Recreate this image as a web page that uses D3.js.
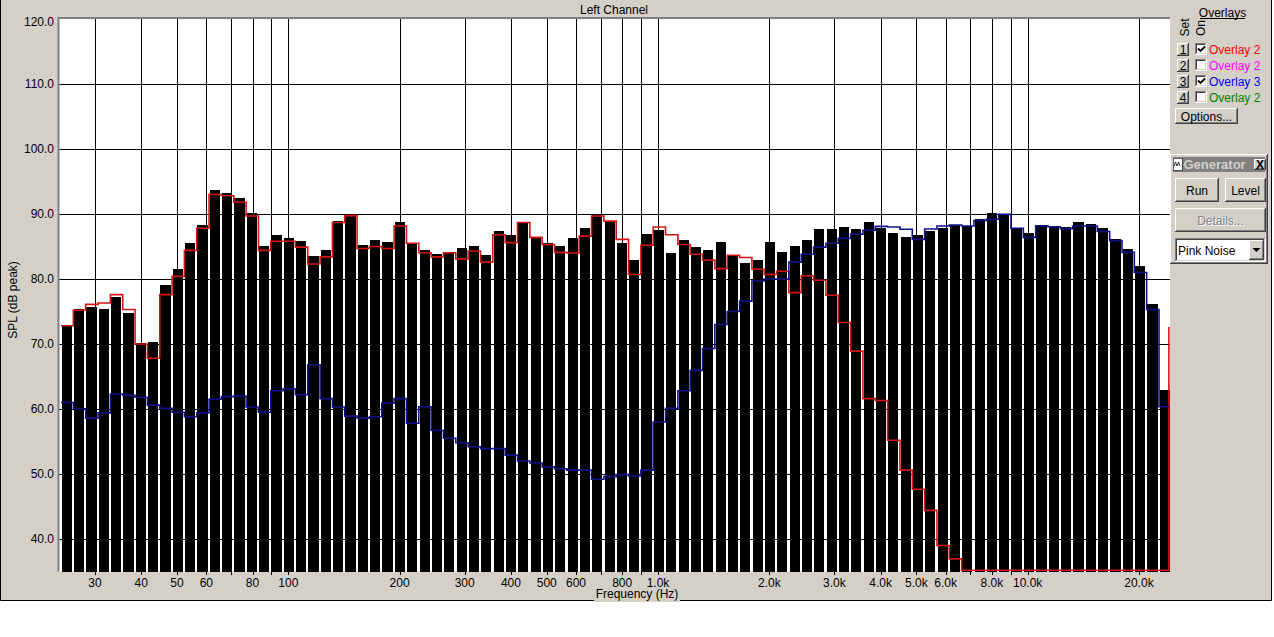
<!DOCTYPE html>
<html><head><meta charset="utf-8">
<script src="https://cdn.jsdelivr.net/npm/d3@7"></script>
<style>
html,body{margin:0;padding:0;background:#fff;overflow:hidden}
svg{display:block}
text{font-family:"Liberation Sans",Arial,sans-serif;font-size:12px}
</style>
</head><body>
<svg id="c" width="1274" height="637"></svg>
<script>
// ---- data (1/9-octave bands) ----
const bandCenters = [25.14,27.16,29.33,31.67,34.20,36.93,39.88,43.07,46.51,50.22,
  54.23,58.56,63.24,68.29,73.75,79.64,86.00,92.87,100.25,108.26,
  116.9,126.3,136.3,147.2,159.0,171.7,185.4,200.2,216.2,233.5,
  252.1,272.3,294.0,317.5,342.8,370.2,399.8,431.8,466.2,503.5,
  543.7,587.1,634.0,684.7,739.4,798.4,862.2,931.1,1005,1086,
  1172,1266,1367,1476,1594,1722,1859,2007,2168,2341,
  2528,2730,2948,3183,3438,3712,4009,4329,4675,5048,
  5452,5887,6357,6865,7413,8005,8645,9335,10080,10890,
  11750,12690,13710,14800,15980,17260,18640,20120,21730,23470];

const levels = [72.8,75.4,75.7,75.4,77.3,74.7,70.1,70.3,79.1,81.5,
  85.6,88.3,93.7,93.2,92.5,90.2,85.1,86.8,86.3,85.8,
  83.5,84.5,88.9,89.85,85.2,86.0,85.7,88.8,85.5,84.5,
  83.85,84.15,84.8,85.1,83.7,87.4,86.8,88.6,86.4,85.5,
  85.1,86.3,87.8,89.9,89.0,85.6,82.9,86.9,87.5,84.05,
  86.0,85.0,84.5,85.7,83.5,82.5,82.9,85.7,84.2,85.1,
  86.0,87.7,87.7,88.0,87.7,88.8,87.9,87.1,86.5,86.8,
  87.4,87.9,88.3,88.15,89.3,90.15,89.95,87.8,87.1,88.35,
  88.15,88.0,88.8,88.5,87.85,86.1,84.6,82.05,76.2,62.95];

const overlay1 = [72.8,75.2,76.1,76.3,77.6,75.3,70.0,67.8,77.6,80.4,
  84.4,87.8,93.0,92.8,91.8,89.7,84.4,85.8,85.8,84.9,
  82.3,83.4,88.7,89.75,84.7,85.0,84.7,88.15,85.5,84.05,
  83.4,84.05,83.1,84.3,82.6,86.8,85.6,88.7,86.4,85.3,
  84.1,84.0,86.6,89.7,88.9,86.1,80.7,85.2,88.0,86.8,
  85.3,83.8,82.9,81.6,83.65,83.3,81.5,80.7,81.2,77.9,
  80.5,79.8,77.5,73.3,68.9,61.6,61.3,55.2,50.6,47.65,
  44.4,39.0,36.95,35,35,35,35,35,35,35,
  35,35,35,35,35,35,35,35,35,35];
const overlay1End = 72.6;

const overlay3 = [61.0,60.05,58.6,59.4,62.3,62.1,61.8,60.6,60.1,59.5,
  58.8,59.4,61.5,61.9,62.0,60.3,59.5,62.8,63.1,62.2,
  66.8,61.6,60.3,58.9,58.6,58.8,60.9,61.6,57.8,60.35,
  56.7,55.5,54.8,54.2,53.9,53.9,52.9,52.0,51.7,51.1,
  50.8,50.6,50.6,49.2,49.6,49.9,49.7,50.6,58.0,60.1,
  62.8,65.95,69.3,73.0,75.0,76.6,79.7,80.0,80.0,82.6,
  83.8,84.9,85.5,86.25,86.9,87.5,88.1,88.0,87.65,86.1,
  87.7,88.15,88.3,88.15,89.0,89.2,89.95,87.8,86.4,88.2,
  88.05,87.75,88.15,88.15,87.3,85.9,84.1,81.0,75.3,60.35];

const xGridValues = [30,40,50,60,70,80,90,100,200,300,400,500,600,700,800,900,
  1000,2000,3000,4000,5000,6000,7000,8000,9000,10000,20000];
const xTickLabels = {30:"30",40:"40",50:"50",60:"60",80:"80",100:"100",200:"200",300:"300",
  400:"400",500:"500",600:"600",800:"800",1000:"1.0k",2000:"2.0k",3000:"3.0k",4000:"4.0k",
  5000:"5.0k",6000:"6.0k",8000:"8.0k",10000:"10.0k",20000:"20.0k"};
const yTickValues = [40,50,60,70,80,90,100,110,120];
const overlayNames = ["Overlay 2","Overlay 2","Overlay 3","Overlay 2"];
const overlayColors = ["#f00000","#ff00ff","#0000f0","#008000"];
const overlayOn = [true,false,true,false];

// ---- layout ----
const FACE="#d4d0c8";
const plot={left:59,top:19,right:1170,bottom:571.5};
const svg=d3.select("#c");
const X=d3.scaleLog().domain([23.97,24260]).range([plot.left,plot.right]);
const Y=d3.scaleLinear().domain([35,120]).range([plot.bottom,plot.top]);

svg.append("rect").attr("width",1274).attr("height",637).attr("fill","#fff");
svg.append("rect").attr("x",0).attr("y",0).attr("width",1272).attr("height",600).attr("fill",FACE);
svg.append("path").attr("d","M0.5,0V600.5H1271.5V0").attr("fill","none").attr("stroke","#000");

// plot area
svg.append("rect").attr("x",plot.left).attr("y",plot.top).attr("width",plot.right-plot.left)
  .attr("height",plot.bottom-plot.top).attr("fill","#fff");

const grid=svg.append("g").attr("shape-rendering","crispEdges").attr("stroke","#000");
xGridValues.forEach(v=>{
  const x=Math.round(X(v))+0.5;
  grid.append("line").attr("x1",x).attr("x2",x).attr("y1",plot.top).attr("y2",plot.bottom+3);
});
yTickValues.filter(v=>v<120).forEach(v=>{
  const y=Math.round(Y(v))+0.5;
  grid.append("line").attr("x1",plot.left).attr("x2",plot.right).attr("y1",y).attr("y2",y);
});

// band edges from centres
const n=bandCenters.length;
const edges=[];
for(let i=0;i<=n;i++){
  if(i===0) edges.push(bandCenters[0]/Math.sqrt(bandCenters[1]/bandCenters[0]));
  else if(i===n) edges.push(bandCenters[n-1]*Math.sqrt(bandCenters[n-1]/bandCenters[n-2]));
  else edges.push(Math.sqrt(bandCenters[i-1]*bandCenters[i]));
}

// bars
svg.append("g").attr("shape-rendering","crispEdges").selectAll("rect").data(levels).join("rect")
  .attr("x",(d,i)=>X(edges[i])+1.2)
  .attr("width",(d,i)=>X(edges[i+1])-X(edges[i])-2.2)
  .attr("y",d=>Y(d))
  .attr("height",d=>plot.bottom-Y(d))
  .attr("fill","#000");

// overlay step lines
const lastX=X(edges[n])-2;
const yc=v=>Math.min(Y(v),plot.bottom-1.3);
function stepPts(vals,endVal){
  const pts=vals.map((v,i)=>[X(edges[i])+0.5,yc(v)]);
  pts.push([lastX,yc(endVal)]);
  return pts;
}
const stepLine=d3.line().curve(d3.curveStepAfter);
svg.append("path").attr("d",stepLine(stepPts(overlay1,overlay1End)))
  .attr("fill","none").attr("stroke","#d41414").attr("stroke-width",1.6);
svg.append("path").attr("d",stepLine(stepPts(overlay3,overlay3[n-1])))
  .attr("fill","none").attr("stroke","#10108c").attr("stroke-width",1.6);

// plot frame (sunken)
svg.append("path").attr("d",`M${plot.left-0.5},${plot.bottom}V${plot.top-1}H${plot.right}`)
  .attr("fill","none").attr("stroke","#808080").attr("stroke-width",2);

// y labels
yTickValues.forEach(v=>{
  svg.append("text").attr("x",54).attr("y",Math.max(Y(v),21.5)+4.3)
    .attr("text-anchor","end").attr("fill","#000").text(v.toFixed(1));
});
// x labels
Object.keys(xTickLabels).forEach(k=>{
  svg.append("text").attr("x",X(+k)).attr("y",586.5).attr("text-anchor","middle")
    .attr("fill","#000").text(xTickLabels[k]);
});
svg.append("text").attr("x",614).attr("y",14).attr("text-anchor","middle").text("Left Channel");
svg.append("rect").attr("x",594).attr("y",589).attr("width",86).attr("height",13).attr("fill",FACE);
svg.append("text").attr("x",637).attr("y",598).attr("text-anchor","middle").text("Frequency (Hz)");
svg.append("text").attr("transform","translate(17,300) rotate(-90)").attr("text-anchor","middle").text("SPL (dB peak)");

// ---- right-hand controls ----
const ui=svg.append("g").attr("shape-rendering","crispEdges");
function pth(g,d,c){g.append("path").attr("d",d).attr("fill","none").attr("stroke",c);}
function raised(g,x,y,w,h){
  g.append("rect").attr("x",x).attr("y",y).attr("width",w).attr("height",h).attr("fill",FACE);
  pth(g,`M${x+0.5},${y+h-1}V${y+0.5}H${x+w-1}`,"#fff");
  pth(g,`M${x},${y+h-0.5}H${x+w-0.5}V${y}`,"#404040");
  pth(g,`M${x+1},${y+h-1.5}H${x+w-1.5}V${y+1}`,"#808080");
}
function sunken(g,x,y,w,h,fill){
  g.append("rect").attr("x",x).attr("y",y).attr("width",w).attr("height",h).attr("fill",fill);
  pth(g,`M${x+0.5},${y+h-1}V${y+0.5}H${x+w-1}`,"#808080");
  pth(g,`M${x+1.5},${y+h-2}V${y+1.5}H${x+w-2}`,"#404040");
  pth(g,`M${x},${y+h-0.5}H${x+w-0.5}V${y}`,"#fff");
  pth(g,`M${x+1},${y+h-1.5}H${x+w-1.5}V${y+1}`,FACE);
}
function label(x,y,t,opt={}){
  const e=svg.append("text").attr("x",x).attr("y",y).attr("fill",opt.fill||"#000")
    .attr("text-anchor",opt.anchor||"start").text(t);
  if(opt.bold) e.attr("font-weight","bold");
  if(opt.size) e.style("font-size",opt.size+"px");
  return e;
}
svg.append("text").attr("transform","translate(1188.5,27.5) rotate(-90)").attr("text-anchor","middle").text("Set");
svg.append("text").attr("transform","translate(1205,28) rotate(-90)").attr("text-anchor","middle").text("On");
label(1222.5,16.5,"Overlays",{anchor:"middle"});
ui.append("line").attr("x1",1200).attr("x2",1245).attr("y1",18.5).attr("y2",18.5).attr("stroke","#000");
overlayNames.forEach((nm,i)=>{
  const y=43+i*16;
  raised(ui,1177,y,12,13);
  label(1183,y+11,String(i+1),{anchor:"middle"});
  sunken(ui,1195,y,12,12,"#fff");
  if(overlayOn[i]){
    svg.append("path").attr("d",`M${1198},${y+5.5}L${1200.5},${y+8}L${1205},${y+3.5}`)
      .attr("fill","none").attr("stroke","#000").attr("stroke-width",1.8);
  }
  label(1209,y+10.5,nm,{fill:overlayColors[i]});
});
raised(ui,1175,108,63,16);
label(1206.5,120.5,"Options...",{anchor:"middle"});

// Generator panel
raised(ui,1170,154,98,110);
ui.append("rect").attr("x",1173).attr("y",157).attr("width",92).attr("height",15).attr("fill","#808080");
ui.append("rect").attr("x",1173).attr("y",158).attr("width",9).attr("height",12).attr("fill","#fff").attr("stroke","#404040").attr("stroke-width",0.8);
svg.append("path").attr("d","M1174,166L1175.5,162L1177,166L1178.5,162L1180,166").attr("fill","none").attr("stroke","#000").attr("stroke-width",0.8);
label(1183.5,169,"Generator",{bold:true,fill:FACE,size:13});
raised(ui,1254,159,12,11);
label(1260,168.5,"X",{anchor:"middle",bold:true});
raised(ui,1175,178,44,24);
label(1197,194.5,"Run",{anchor:"middle"});
raised(ui,1225,178,41,24);
label(1245.5,194.5,"Level",{anchor:"middle"});
raised(ui,1175,208,91,24);
label(1221.5,225.5,"Details...",{anchor:"middle",fill:"#fff"});
label(1220.5,224.5,"Details...",{anchor:"middle",fill:"#808080"});
sunken(ui,1175,238,91,24,"#fff");
raised(ui,1249,240,15,20);
svg.append("path").attr("d","M1252.5,248H1260.5L1256.5,252Z").attr("fill","#000");
label(1178,254.5,"Pink Noise");
</script>
</body></html>
